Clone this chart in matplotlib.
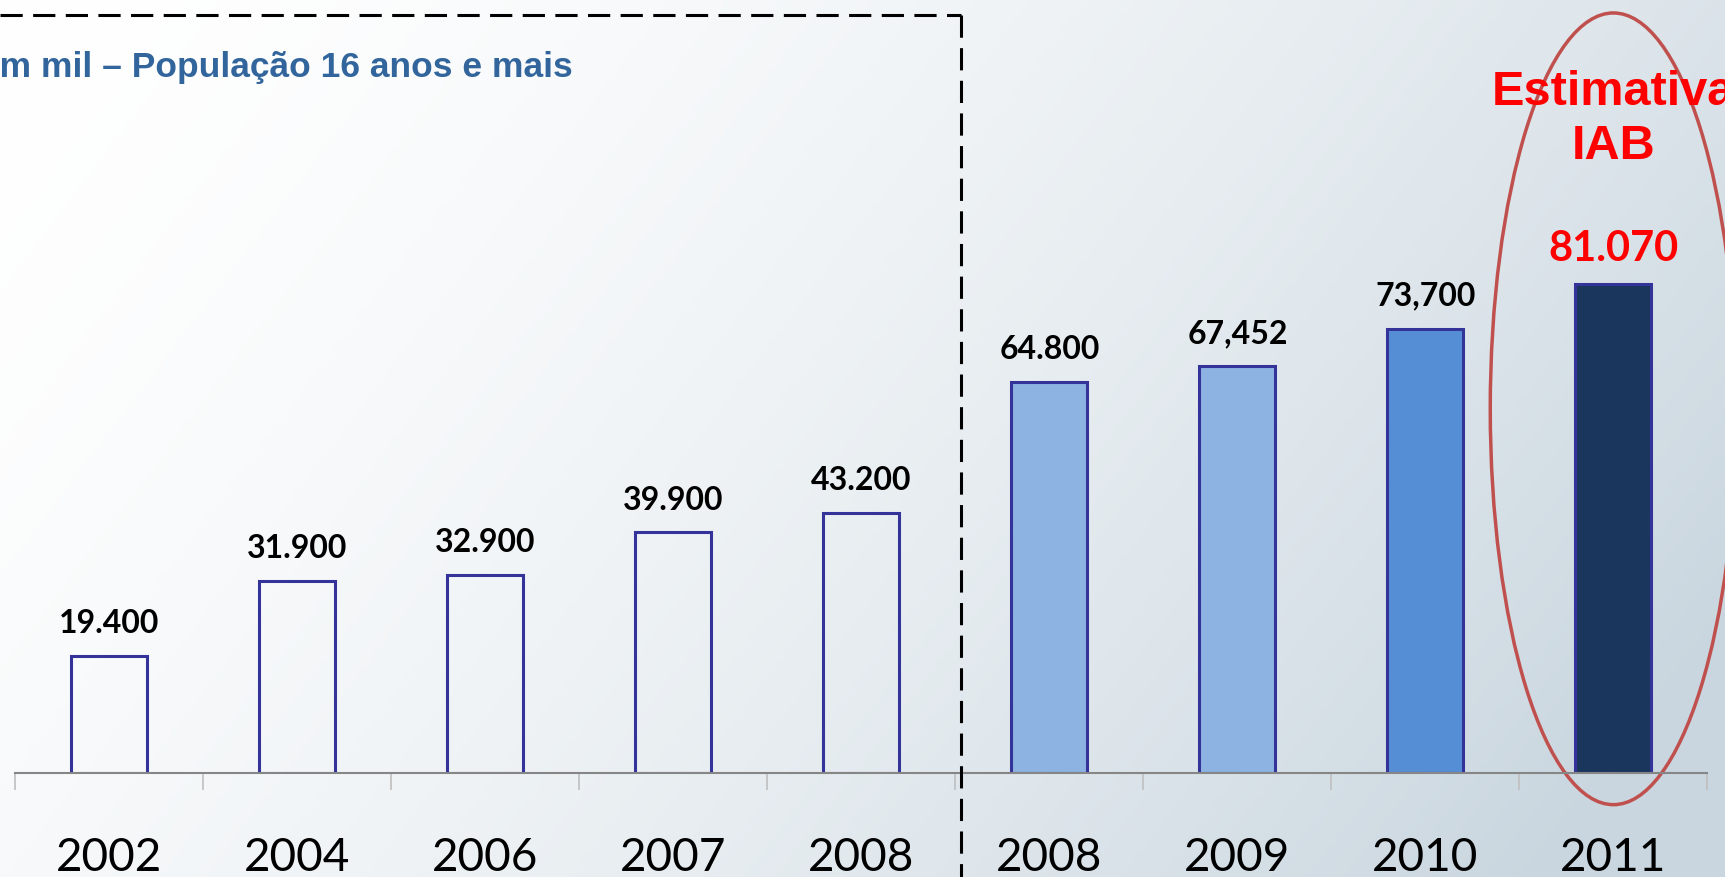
import numpy as np
import matplotlib.pyplot as plt
from matplotlib.patches import Ellipse
from matplotlib.lines import Line2D

# Data (in thousands of people, 16+ years)
years = ['2002', '2004', '2006', '2007', '2008', '2008', '2009', '2010', '2011']
values = [19400, 31900, 32900, 39900, 43200, 64800, 67452, 73700, 81070]
value_labels = ['19.400', '31.900', '32.900', '39.900', '43.200',
                '64.800', '67,452', '73,700', '81.070']
bar_colors = ['none'] * 5 + ['#8db3e2', '#8db3e2', '#558ed5', '#1a365d']
label_colors = ['black'] * 8 + ['#ff0000']

plt.rcParams['lines.scale_dashes'] = False

W, H = 1725, 877
fig = plt.figure(figsize=(W / 100, H / 100), dpi=100)

# Background gradient (white top-left -> light blue-grey bottom-right)
bg = fig.add_axes([0, 0, 1, 1])
gx, gy = np.meshgrid(np.linspace(0, 1, 400), np.linspace(0, 1, 200))
t = np.clip(0.78 * gx + 0.3 * gy, 0, 1) ** 1.6
c0 = np.array([1.0, 1.0, 1.0])
c1 = np.array([0.79, 0.84, 0.875])
img = c0 + (c1 - c0) * t[..., None]
bg.imshow(img, extent=[0, 1, 0, 1], aspect='auto', origin='upper')
bg.axis('off')

# Main bar axes
ax = fig.add_axes([15.4 / W, 104 / H, 9 * 188 / W, 773 / H])
ax.set_facecolor('none')
x = np.arange(len(values))
ax.bar(x, values, width=0.405, color=bar_colors, edgecolor='#333399', linewidth=2.2)
ax.set_xlim(-0.5, 8.5)
ax.set_ylim(0, 128200)

for i, (v, lbl) in enumerate(zip(values, value_labels)):
    size = 30 if i == 8 else 23
    ax.annotate(lbl, (i, v), xytext=(0, 16.5), textcoords='offset points',
                ha='center', va='baseline', fontsize=size, fontweight='bold',
                family='Lato', color=label_colors[i])

for s in ['top', 'right', 'left']:
    ax.spines[s].set_visible(False)
ax.spines['bottom'].set_color('#868686')
ax.spines['bottom'].set_linewidth(1.5)
ax.set_yticks([])
ax.set_xticks(x)
ax.set_xticklabels(years, fontsize=33, family='Lato')
ax.set_xticks(np.arange(-0.5, 9, 1), minor=True)
ax.tick_params(axis='x', which='major', length=0, pad=46)
ax.tick_params(axis='x', which='minor', length=12, color='#bfbfbf', width=1.2)

# "Estimativa IAB" highlight
ax.add_patch(Ellipse((8, 60400), width=1.31, height=131300, fill=False,
                     edgecolor='#c0504d', linewidth=2.5, clip_on=False))
ax.text(8, 110800, 'Estimativa', ha='center', va='baseline', fontsize=35,
        fontweight='bold', family='Liberation Sans', color='#ff0000', clip_on=False)
ax.text(8, 101800, 'IAB', ha='center', va='baseline', fontsize=35,
        fontweight='bold', family='Liberation Sans', color='#ff0000', clip_on=False)

# Title (cut off at the left edge like the slide)
fig.text(-24 / W, 1 - 77 / H, 'Em mil – População 16 anos e mais', color='#31659c',
         fontsize=25.5, fontweight='bold', family='Liberation Sans', va='baseline')

# Dashed frame around the older survey
for xs, ys in [([0, 961 / W], [1 - 15 / H, 1 - 15 / H]),
               ([961 / W, 961 / W], [1 - 15 / H, 0])]:
    ln = Line2D(xs, ys, transform=fig.transFigure, color='black', linewidth=2.2)
    ln.set_dashes((16, 7.5))
    fig.add_artist(ln)

fig.savefig('out.png', dpi=100)
